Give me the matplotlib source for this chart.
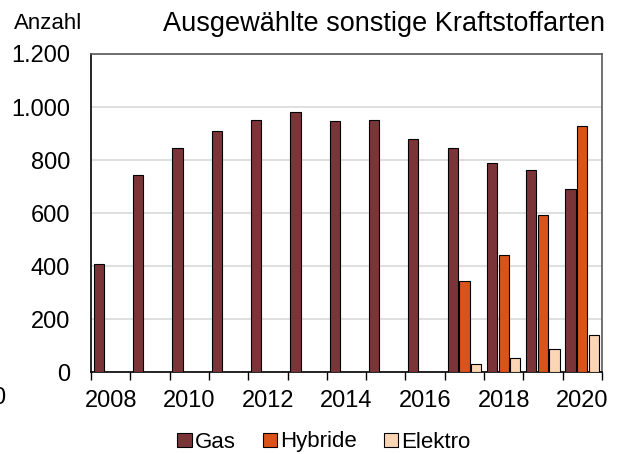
import matplotlib
matplotlib.use("Agg")
import matplotlib.pyplot as plt
import numpy as np
from matplotlib.ticker import FuncFormatter, FixedLocator

plt.rcParams['font.family'] = ['Liberation Sans', 'DejaVu Sans']

years = list(range(2008, 2021))
gas = [409, 743, 845, 909, 953, 980, 946, 950, 881, 847, 791, 763, 691]
hybride = [0, 0, 0, 0, 0, 0, 0, 0, 0, 345, 441, 593, 929]
elektro = [0, 0, 0, 0, 0, 0, 0, 0, 0, 33, 55, 87, 141]
series_names = ["Gas", "Hybride", "Elektro"]
colors = ["#7B3539", "#D9531A", "#FCD5B4"]
tick_years = [2008, 2010, 2012, 2014, 2016, 2018, 2020]

fig = plt.figure(figsize=(6.24, 4.54), dpi=100)
ax = fig.add_axes([91/624, 1-372.4/454, (602-91)/624, (372.4-54)/454])

x = np.arange(len(years))
w = 0.26
offsets = [-0.30, 0.0, 0.29]
for vals, name, c, off in zip([gas, hybride, elektro], series_names, colors, offsets):
    vals = np.array(vals, dtype=float)
    mask = vals > 0
    ax.bar(x[mask] + off, vals[mask], width=w, color=c, edgecolor="black",
           linewidth=0.8, label=name, zorder=3)

ax.set_xlim(-0.5, len(years) - 0.5)
ax.set_ylim(0, 1200)
ax.set_yticks(range(0, 1201, 200))
ax.yaxis.set_major_formatter(FuncFormatter(lambda v, p: f"{int(v):,}".replace(",", ".")))
ax.tick_params(axis='y', length=0, pad=15, labelsize=17)
ax.grid(axis='y', color="#D9D9D9", linewidth=1.2, zorder=0)

ax.set_xticks([years.index(y) for y in tick_years])
ax.set_xticklabels([str(y) for y in tick_years])
ax.xaxis.set_minor_locator(FixedLocator(np.arange(-0.5, len(years), 1.0)))
ax.tick_params(axis='x', which='major', length=0, pad=13, labelsize=17)
ax.tick_params(axis='x', which='minor', length=6, width=1, color="black", direction='out')

for s in ['top', 'right']:
    ax.spines[s].set_color("#595959")
    ax.spines[s].set_linewidth(1.2)
for s in ['left', 'bottom']:
    ax.spines[s].set_color("black")
    ax.spines[s].set_linewidth(1.2)

fig.text(384/624, 1-31/454, "Ausgewählte sonstige Kraftstoffarten", ha='center',
         va='baseline', fontsize=19.5)
fig.text(14/624, 1-29/454, "Anzahl", ha='left', va='baseline', fontsize=16)
fig.text(5/624, 1-398/454, "0", ha='right', va='center', fontsize=17)

leg = fig.legend(loc='center', bbox_to_anchor=(324/624, 1-442/454), ncol=3,
                 frameon=False, fontsize=16, handlelength=0.65, handleheight=0.6,
                 handletextpad=0.15, columnspacing=1.2, borderpad=0, borderaxespad=0)
for h in leg.legend_handles:
    h.set_linewidth(0.8)

fig.savefig("out.png", dpi=100)
